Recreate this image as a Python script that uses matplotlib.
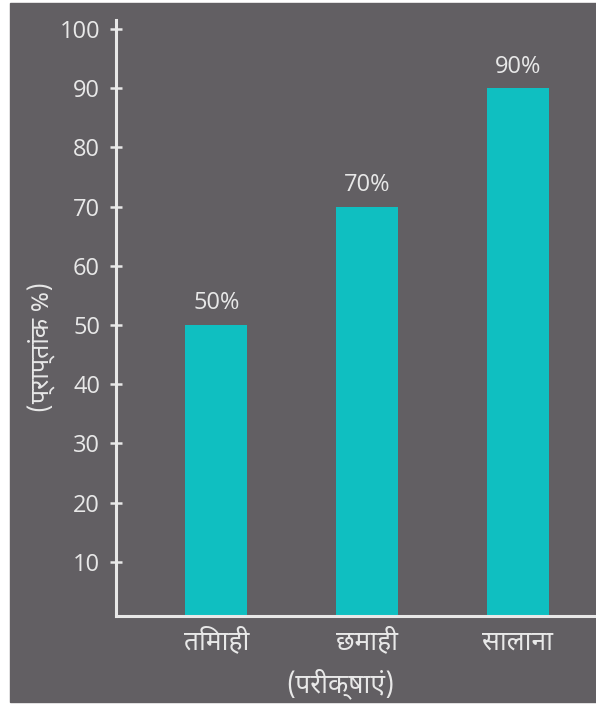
import matplotlib
matplotlib.use("Agg")
import matplotlib.pyplot as plt
from matplotlib import font_manager
from matplotlib.ft2font import FT2Font
from matplotlib.patches import Rectangle

# ── Data ──────────────────────────────────────────────────────────────────────
categories = ["तिमाही", "छमाही", "सालाना"]
scores = [50, 70, 90]
value_labels = ["50%", "70%", "90%"]
y_ticks = [10, 20, 30, 40, 50, 60, 70, 80, 90, 100]
x_title = "(परीक्षाएं)"
y_title = "(प्राप्तांक %)"

BG = "#625f63"
BAR = "#0fbfc1"
FG = "#e8e8e8"
NUM_FONT = ["Open Sans", "DejaVu Sans"]


def _find_devanagari_font():
    """Return a font family name that covers Devanagari, if one is installed."""
    found = []
    for f in font_manager.fontManager.ttflist:
        try:
            if 0x0924 in FT2Font(f.fname).get_charmap():
                found.append(f.name)
        except Exception:
            continue
    for pref in ["Noto Sans Devanagari", "Lohit Devanagari", "Mukta", "FreeSans"]:
        if pref in found:
            return pref
    return found[0] if found else None


deva = _find_devanagari_font()
plt.rcParams["font.family"] = ([deva] if deva else []) + NUM_FONT

fig = plt.figure(figsize=(5.96, 7.05), dpi=100, facecolor="white")
fig.patches.append(Rectangle((10 / 596, 3 / 705), 1, 699 / 705,
                             transform=fig.transFigure, color=BG, zorder=-10))

ax = fig.add_axes([116 / 596, 89 / 705, 1 - 116 / 596, (685 - 89) / 705])
ax.patch.set_alpha(0)

x = range(len(categories))
ax.bar(x, scores, width=0.41, color=BAR, zorder=2)
for xi, v, lab in zip(x, scores, value_labels):
    ax.text(xi, v + 1.6, lab, ha="center", va="bottom", color=FG,
            fontsize=17, family=NUM_FONT)

ax.set_xlim(-0.666, 2.52)
ax.set_ylim(0.84, 101.5)

for s in ["top", "right"]:
    ax.spines[s].set_visible(False)
for s in ["left", "bottom"]:
    ax.spines[s].set_color(FG)
    ax.spines[s].set_linewidth(2.2)

ax.set_yticks(y_ticks)
ax.set_yticklabels([str(t) for t in y_ticks], family=NUM_FONT)
ax.tick_params(axis="y", direction="inout", length=9, width=1.8, colors=FG,
               labelsize=17, pad=7)
ax.set_xticks(list(x))
ax.set_xticklabels(categories, fontsize=19, color=FG, fontweight="bold")
ax.tick_params(axis="x", length=0, pad=9)

ax.set_xlabel(x_title, fontsize=19, color=FG, fontweight="bold")
ax.xaxis.set_label_coords((340 - 116) / 480, -0.088)
ax.set_ylabel(y_title, fontsize=18, color=FG, fontweight="bold")
ax.yaxis.set_label_coords(-0.125, (705 - 347 - 89) / 596)

fig.savefig("out.png", dpi=100, facecolor="white")
